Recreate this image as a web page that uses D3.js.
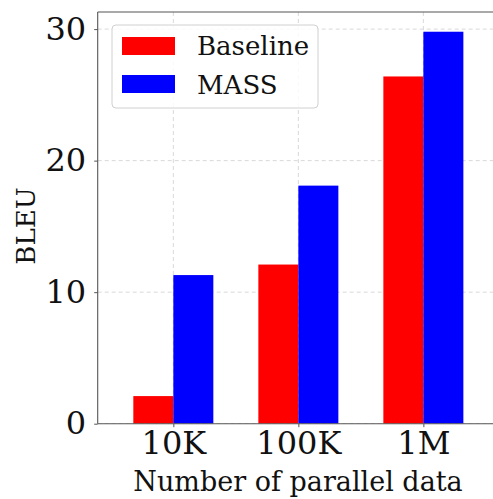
<!DOCTYPE html>
<html>
<head>
<meta charset="utf-8">
<script src="https://cdn.jsdelivr.net/npm/d3@7"></script>
<style>
  html, body { margin: 0; padding: 0; background: #fff; overflow: hidden; }
  svg { display: block; }
  text { font-family: "DejaVu Serif", serif; fill: #111; }
</style>
</head>
<body>
<svg id="chart" width="493" height="499"></svg>
<script>
const categories = ["10K", "100K", "1M"];
const seriesNames = ["Baseline", "MASS"];
const baselineValues = [2.1, 12.1, 26.4];
const massValues = [11.3, 18.1, 29.8];
const yTicks = [0, 10, 20, 30];
const colors = ["#ff0000", "#0000ff"];

const svg = d3.select("#chart");
const pLeft = 97.7, pRight = 499, pTop = 12, pBottom = 423.7;

const x = d3.scaleLinear().domain([-0.605, 2.605]).range([pLeft, pRight]);
const y = d3.scaleLinear().domain([0, 31.3]).range([pBottom, pTop]);
const barW = 0.32;

svg.append("defs").append("clipPath").attr("id", "plotclip")
  .append("rect").attr("x", pLeft).attr("y", pTop).attr("width", pRight - pLeft).attr("height", pBottom - pTop);

// grid
const g = svg.append("g").attr("clip-path", "url(#plotclip)");
g.selectAll("line.hgrid").data(yTicks).enter().append("line")
  .attr("x1", pLeft).attr("x2", pRight)
  .attr("y1", d => y(d)).attr("y2", d => y(d))
  .attr("stroke", "#d9d9d9").attr("stroke-width", 1).attr("stroke-dasharray", "4,3");
g.selectAll("line.vgrid").data(categories).enter().append("line")
  .attr("x1", (d, i) => x(i)).attr("x2", (d, i) => x(i))
  .attr("y1", pTop).attr("y2", pBottom)
  .attr("stroke", "#d9d9d9").attr("stroke-width", 1).attr("stroke-dasharray", "4,3");

// bars
const series = [baselineValues, massValues];
series.forEach((vals, s) => {
  g.selectAll("rect.s" + s).data(vals).enter().append("rect")
    .attr("class", "s" + s)
    .attr("x", (d, i) => x(i + (s === 0 ? -barW : 0)))
    .attr("width", x(barW) - x(0))
    .attr("y", d => y(d))
    .attr("height", d => y(0) - y(d))
    .attr("fill", colors[s]);
});

// spines (right spine falls outside the visible area)
const spine = (x1, y1, x2, y2) => svg.append("line").attr("x1", x1).attr("y1", y1).attr("x2", x2).attr("y2", y2)
  .attr("stroke", "#555").attr("stroke-width", 1.1);
spine(pLeft, pTop, pLeft, pBottom);
spine(pLeft, pTop, 500, pTop);
spine(pLeft, pBottom, 500, pBottom);

// y axis
const yAxis = svg.append("g").attr("transform", `translate(${pLeft},0)`)
  .call(d3.axisLeft(y).tickValues(yTicks).tickSize(3.5).tickPadding(8));
yAxis.select(".domain").remove();
yAxis.selectAll("line").attr("stroke", "#555");
yAxis.selectAll("text").style("font-family", "DejaVu Serif").style("font-size", "32px").attr("fill", "#111");

// x axis
const xAxis = svg.append("g").attr("transform", `translate(0,${pBottom})`)
  .call(d3.axisBottom(x).tickValues([0, 1, 2]).tickFormat(i => categories[i]).tickSize(3.5).tickPadding(4));
xAxis.select(".domain").remove();
xAxis.selectAll("line").attr("stroke", "#555");
xAxis.selectAll("text").style("font-family", "DejaVu Serif").style("font-size", "32px").attr("fill", "#111");

// axis labels
svg.append("text").attr("x", 298).attr("y", 491)
  .attr("text-anchor", "middle").style("font-size", "27px").text("Number of parallel data");
svg.append("text").attr("transform", `translate(35,226) rotate(-90)`)
  .attr("text-anchor", "middle").style("font-size", "26px").text("BLEU");

// legend
const lg = svg.append("g");
lg.append("rect").attr("x", 112).attr("y", 25).attr("width", 206).attr("height", 83).attr("rx", 4)
  .attr("fill", "#fff").attr("fill-opacity", 0.85).attr("stroke", "#d0d0d0");
seriesNames.forEach((n, i) => {
  lg.append("rect").attr("x", 122).attr("y", 37 + i * 38).attr("width", 53).attr("height", 18).attr("fill", colors[i]);
  lg.append("text").attr("x", 197).attr("y", 55 + i * 39).style("font-size", "26px").text(n);
});
</script>
</body>
</html>
